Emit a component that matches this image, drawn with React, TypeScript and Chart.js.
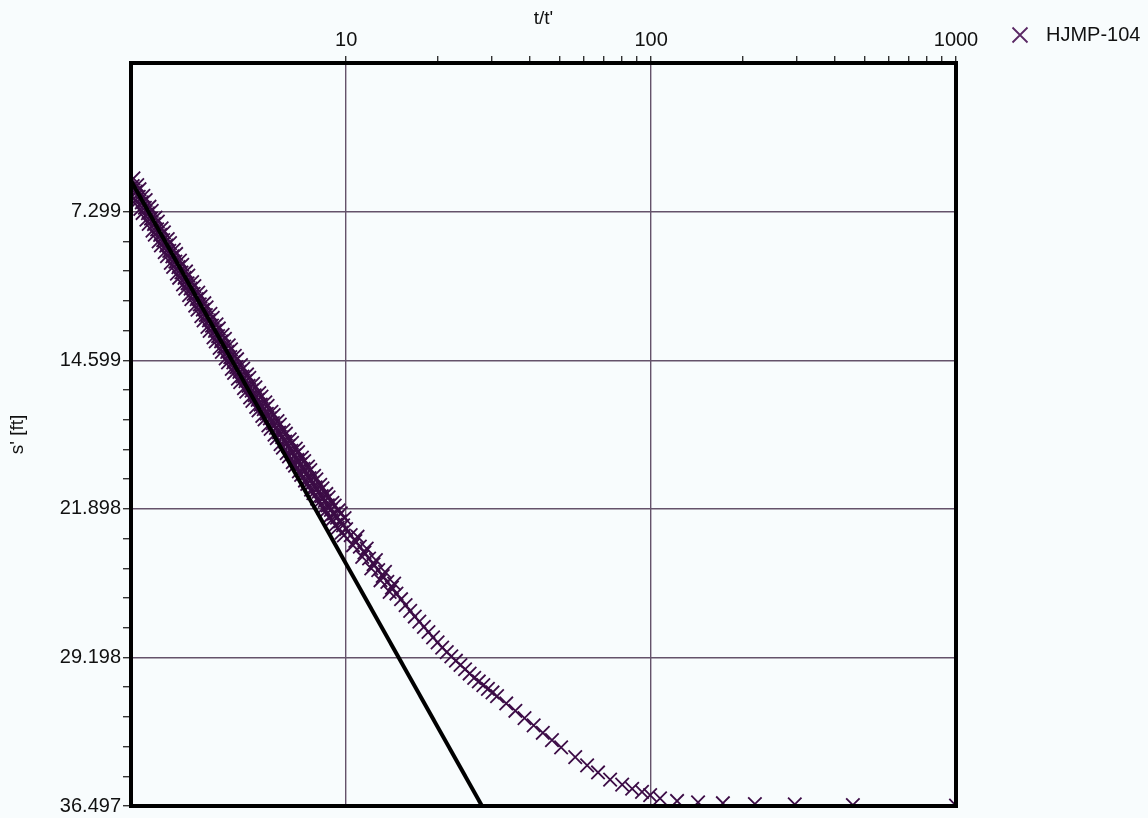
import React, { useEffect, useRef } from "react";
import { Chart, registerables } from "chart.js";

Chart.register(...registerables);

const seriesName = "HJMP-104";

// t/t' values of the recovery data
const ttPrime: number[] = [
  1.995, 2.042, 2.089, 2.138, 2.188, 2.239, 2.291, 2.344, 2.399, 2.455,
  2.512, 2.57, 2.63, 2.692, 2.754, 2.818, 2.884, 2.951, 3.02, 3.09,
  3.162, 3.236, 3.311, 3.388, 3.467, 3.548, 3.631, 3.715, 3.802, 3.89,
  3.981, 4.074, 4.169, 4.266, 4.365, 4.467, 4.571, 4.677, 4.786, 4.898,
  5.012, 5.129, 5.248, 5.37, 5.495, 5.623, 5.754, 5.888, 6.026, 6.166,
  6.31, 6.457, 6.607, 6.761, 6.918, 7.079, 7.244, 7.413, 7.586, 7.762,
  7.943, 8.128, 8.318, 8.511, 8.71, 8.913, 9.12, 9.333, 9.55, 9.772,
  10.0,
  10.35, 10.72, 11.09, 11.48, 11.89, 12.3, 12.74, 13.18, 13.65, 14.13,
  14.62, 15.14, 15.67, 16.22, 16.79, 17.38, 17.99, 18.62, 19.28, 19.95,
  20.65, 21.38, 22.13, 22.91, 23.71, 24.55, 25.41, 26.3, 27.23, 28.18,
  29.17, 30.2, 31.26, 33.5, 35.89, 38.46, 41.21, 44.16, 47.32, 50.7,
  56.4, 61.7, 67.0, 73.4, 80.4, 86.7, 93.4, 99.3, 107, 121.7,
  142.6, 172, 219, 296, 459, 1000,
  // interleaved readings in the dense early part
  2.018, 2.065, 2.113, 2.163, 2.213, 2.265, 2.317, 2.371, 2.427, 2.483,
  2.541, 2.6, 2.661, 2.723, 2.786, 2.851, 2.917, 2.985, 3.055, 3.126,
  3.199, 3.273, 3.35, 3.428, 3.508, 3.589, 3.673, 3.758, 3.846, 3.936,
  4.027, 4.121, 4.217, 4.315, 4.416, 4.519, 4.624, 4.732, 4.842, 4.955,
  5.07, 5.188, 5.309, 5.433, 5.559, 5.689, 5.821, 5.957, 6.095, 6.237,
  6.383, 6.531, 6.683, 6.839, 6.998, 7.161, 7.328, 7.499, 7.674, 7.852,
  8.035, 8.222, 8.414, 8.61, 8.81, 9.016, 9.226, 9.441, 9.661, 9.886,
  10.53, 10.9, 11.29, 11.68, 12.09, 12.52, 12.96, 13.41, 13.89, 14.37,
  2.007, 2.054, 2.101, 2.15, 2.201, 2.252, 2.304, 2.358, 2.413, 2.469,
  2.526, 2.585, 2.645, 2.708, 2.77, 2.834, 2.901, 2.968, 3.037, 3.108,
  3.18, 3.255, 3.33, 3.408, 3.487, 3.568, 3.652, 3.736, 3.824, 3.912,
  4.004, 4.098, 4.193, 4.291, 4.39, 4.493, 4.597, 4.704, 4.814, 4.926,
  5.041, 5.159, 5.278, 5.401, 5.527, 5.655, 5.787, 5.922, 6.061, 6.202,
  6.346, 6.494, 6.645, 6.8, 6.958, 7.12, 7.286, 7.456, 7.63, 7.807,
  7.989, 8.175, 8.366, 8.56, 8.76, 8.964, 9.173, 9.387, 9.605, 9.828,
];

// residual drawdown s' [ft]
const sPrime: number[] = [
  6.05, 6.32, 6.58, 6.85, 7.11, 7.38, 7.64, 7.91, 8.17, 8.44,
  8.7, 8.97, 9.23, 9.5, 9.76, 10.03, 10.29, 10.56, 10.82, 11.08,
  11.34, 11.6, 11.86, 12.12, 12.38, 12.64, 12.9, 13.16, 13.42, 13.67,
  13.93, 14.19, 14.45, 14.71, 14.94, 15.17, 15.4, 15.63, 15.86, 16.09,
  16.32, 16.55, 16.78, 17.0, 17.23, 17.46, 17.69, 17.92, 18.15, 18.38,
  18.6, 18.82, 19.05, 19.27, 19.5, 19.72, 19.94, 20.17, 20.39, 20.62,
  20.84, 21.06, 21.28, 21.51, 21.73, 21.95, 22.14, 22.33, 22.52, 22.71,
  22.9,
  23.19, 23.48, 23.76, 24.05, 24.34, 24.62, 24.91, 25.2, 25.49, 25.77,
  26.06, 26.34, 26.63, 26.91, 27.19, 27.44, 27.7, 27.95, 28.21, 28.46,
  28.72, 28.94, 29.15, 29.36, 29.57, 29.78, 29.99, 30.2, 30.38, 30.56,
  30.74, 30.92, 31.1, 31.46, 31.82, 32.18, 32.54, 32.9, 33.26, 33.62,
  34.1, 34.5, 34.85, 35.2, 35.45, 35.65, 35.8, 35.96, 36.12, 36.25,
  36.32, 36.36, 36.4, 36.42, 36.45, 36.48,
  6.64, 6.0, 7.17, 6.53, 7.7, 7.06, 8.23, 7.59, 8.76, 8.12,
  9.29, 8.65, 9.82, 9.18, 10.35, 9.71, 10.88, 10.24, 11.4, 10.76,
  11.92, 11.28, 12.44, 11.8, 12.96, 12.32, 13.48, 12.84, 14.0, 13.35,
  14.51, 13.87, 15.03, 14.38, 15.51, 14.84, 15.97, 15.3, 16.43, 15.76,
  16.89, 16.22, 17.34, 16.67, 17.8, 17.13, 18.26, 17.59, 18.72, 18.04,
  19.16, 18.49, 19.61, 18.94, 20.06, 19.38, 20.51, 19.83, 20.96, 20.28,
  21.4, 20.72, 21.85, 21.17, 22.29, 21.6, 22.69, 21.98, 23.07, 22.36,
  23.69, 23.27, 24.26, 23.85, 24.83, 24.42, 25.41, 25.0, 25.98, 25.57,
  5.67, 6.84, 6.2, 7.37, 6.73, 7.9, 7.26, 8.43, 7.79, 8.96,
  8.32, 9.49, 8.85, 10.02, 9.38, 10.55, 9.91, 11.08, 10.44, 11.6,
  10.96, 12.12, 11.48, 12.64, 12.0, 13.16, 12.52, 13.68, 13.04, 14.19,
  13.55, 14.71, 14.07, 15.22, 14.55, 15.68, 15.01, 16.14, 15.47, 16.6,
  15.93, 17.06, 16.39, 17.51, 16.84, 17.97, 17.3, 18.43, 17.76, 18.89,
  18.21, 19.33, 18.66, 19.78, 19.11, 20.23, 19.55, 20.68, 20.0, 21.13,
  20.45, 21.57, 20.89, 22.02, 21.34, 22.45, 21.74, 22.83, 22.12, 23.21,
];

// straight-line fit (black)
const fitLineX: number[] = [1.97, 27.9];
const fitLineY: number[] = [5.78, 36.497];

const xMin = 1.97;
const xMax = 1000;
const xTickValues: number[] = [10, 20, 30, 40, 50, 60, 70, 80, 90, 100, 200, 300, 400, 500, 600, 700, 800, 900, 1000];
const xTickLabels: string[] = ["10", "100", "1000"];

const yMin = 0;
const yMax = 36.497;
const yTickValues: number[] = [
  7.299, 8.759, 10.219, 11.679, 13.139,
  14.599, 16.059, 17.519, 18.978, 20.438,
  21.898, 23.358, 24.818, 26.278, 27.738,
  29.198, 30.658, 32.118, 33.577, 35.037,
  36.497,
];
const yTickLabels: string[] = ["7.299", "14.599", "21.898", "29.198", "36.497"];

const FONT = "'Liberation Sans', Arial, Helvetica, sans-serif";
const BG = "#f8fcfd";
const MARKER = "rgb(60, 12, 70)";
const GRID = "#64526a";

export default function App() {
  const canvasRef = useRef<HTMLCanvasElement | null>(null);

  useEffect(() => {
    const canvas = canvasRef.current;
    if (!canvas) return;

    const isXMajor = (v: number) => xTickLabels.includes(String(v));
    const yLabelFor = (v: number) => {
      const s = v.toFixed(3);
      return yTickLabels.includes(s) ? s : "";
    };

    const bgPlugin = {
      id: "bg",
      beforeDraw(chart: any) {
        const c = chart.ctx;
        c.save();
        c.fillStyle = BG;
        c.fillRect(0, 0, chart.width, chart.height);
        c.restore();
      },
    };

    const framePlugin = {
      id: "frame",
      afterDatasetsDraw(chart: any) {
        const { left, top, right, bottom } = chart.chartArea;
        const c = chart.ctx;
        c.save();
        c.strokeStyle = "#000";
        c.lineWidth = 4;
        c.strokeRect(left, top, right - left, bottom - top);
        c.restore();
      },
      afterDraw(chart: any) {
        const c = chart.ctx;
        c.save();
        const cx = 1020;
        const cy = 35;
        const h = 7.5;
        c.strokeStyle = "rgb(90, 40, 100)";
        c.lineWidth = 1.8;
        c.beginPath();
        c.moveTo(cx - h, cy - h);
        c.lineTo(cx + h, cy + h);
        c.moveTo(cx - h, cy + h);
        c.lineTo(cx + h, cy - h);
        c.stroke();
        c.fillStyle = "#111";
        c.font = `20px ${FONT}`;
        c.textBaseline = "middle";
        c.textAlign = "left";
        c.fillText(seriesName, 1046, 35);
        c.restore();
      },
    };

    const chart = new Chart(canvas, {
      type: "scatter",
      data: {
        datasets: [
          {
            label: "fit",
            data: fitLineX.map((x, i) => ({ x, y: fitLineY[i] })),
            showLine: true,
            borderColor: "#000",
            borderWidth: 4,
            pointRadius: 0,
            clip: 0,
          },
          {
            label: seriesName,
            data: ttPrime.map((x, i) => ({ x, y: sPrime[i] })),
            showLine: false,
            pointStyle: "crossRot",
            pointRadius: 9.5,
            borderWidth: 1.8,
            borderColor: MARKER,
            backgroundColor: MARKER,
            clip: 0,
          },
        ],
      },
      options: {
        animation: false,
        responsive: false,
        devicePixelRatio: 1,
        layout: { padding: { left: 0, top: 0, right: 192, bottom: 10 } },
        plugins: {
          legend: { display: false },
          tooltip: { enabled: false },
        },
        scales: {
          x: {
            type: "logarithmic",
            position: "top",
            min: xMin,
            max: xMax,
            afterBuildTicks: (scale: any) => {
              scale.ticks = xTickValues.map((v) => ({ value: v }));
            },
            afterFit: (scale: any) => {
              scale.height = 63;
            },
            ticks: {
              autoSkip: false,
              maxRotation: 0,
              padding: 4,
              color: "#111",
              font: { family: FONT, size: 20, lineHeight: 1.2 },
              callback: (v: any) => (isXMajor(Number(v)) ? String(Number(v)) : ""),
            },
            grid: {
              color: (ctx: any) => (ctx.tick && isXMajor(ctx.tick.value) ? GRID : "rgba(0,0,0,0)"),
              tickColor: "#333",
              tickLength: 7,
              lineWidth: 1.4,
            },
            border: { display: false },
            title: {
              display: true,
              text: "t/t'",
              color: "#111",
              font: { family: FONT, size: 19 },
              padding: { top: 7, bottom: 0 },
            },
          },
          y: {
            type: "linear",
            position: "left",
            reverse: true,
            min: yMin,
            max: yMax,
            afterBuildTicks: (scale: any) => {
              scale.ticks = yTickValues.map((v) => ({ value: v }));
            },
            afterFit: (scale: any) => {
              scale.width = 131;
            },
            ticks: {
              autoSkip: false,
              padding: 2,
              color: "#111",
              font: { family: FONT, size: 20, lineHeight: 1 },
              callback: (v: any) => yLabelFor(Number(v)),
            },
            grid: {
              color: (ctx: any) => (ctx.tick && yLabelFor(ctx.tick.value) ? GRID : "rgba(0,0,0,0)"),
              tickColor: "#333",
              tickLength: 8,
              lineWidth: 1.4,
            },
            border: { display: false },
            title: {
              display: true,
              text: "s' [ft]",
              color: "#111",
              font: { family: FONT, size: 19 },
              padding: { top: 6, bottom: 0 },
            },
          },
        },
      },
      plugins: [bgPlugin, framePlugin],
    } as any);

    return () => {
      chart.destroy();
    };
  }, []);

  return (
    <div style={{ position: "fixed", left: 0, top: 0, width: 1148, height: 818, background: BG }}>
      <canvas ref={canvasRef} width={1148} height={818} style={{ display: "block" }} />
    </div>
  );
}
